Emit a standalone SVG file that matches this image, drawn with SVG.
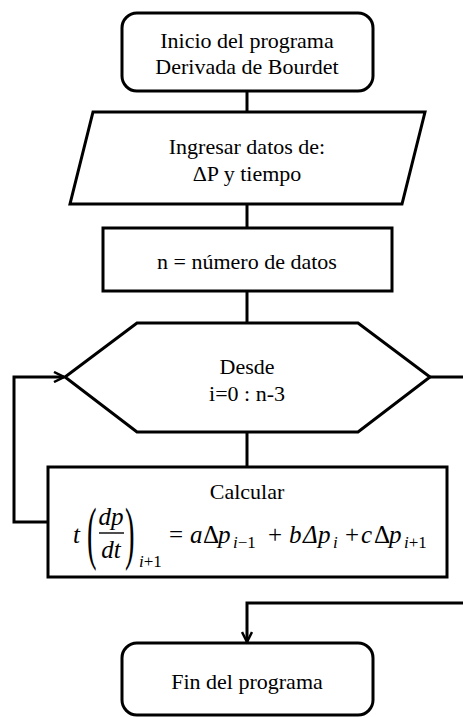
<svg xmlns="http://www.w3.org/2000/svg" width="463" height="717" viewBox="0 0 463 717">
<style>
.s{fill:#fff;stroke:#000;stroke-width:3;stroke-linejoin:miter}
.t{font-size:22px;fill:#000;text-anchor:middle}
.m{font-style:italic;font-size:25px;fill:#000}
.u{font-size:25px;fill:#000}
.bi{font-size:17px;font-style:italic;fill:#000}
.c{fill:none;stroke:#000;stroke-width:3}
</style>
<defs>
<marker id="arr" viewBox="0 0 12 12" refX="11" refY="6" markerWidth="12" markerHeight="12" markerUnits="userSpaceOnUse" orient="auto">
<path d="M1,1 L11,6 L1,11" fill="none" stroke="#000" stroke-width="2.5"/>
</marker>
</defs>
<rect width="463" height="717" fill="#fff"/>
<g id="connectors">
<line class="c" x1="247" y1="91" x2="247" y2="112"/>
<line class="c" x1="247" y1="204" x2="247" y2="228"/>
<line class="c" x1="247" y1="291" x2="247" y2="323"/>
<line class="c" x1="247" y1="432" x2="247" y2="467"/>
<line class="c" x1="430" y1="377" x2="463" y2="377"/>
<polyline class="c" points="48,522 14,522 14,377 64,377" marker-end="url(#arr)"/>
<polyline class="c" points="463,603 247,603 247,642" marker-end="url(#arr)"/>
</g>
<g id="inicio">
<rect class="s" x="122" y="13" width="251" height="78" rx="15"/>
<text class="t" font-family="Liberation Serif" x="247" y="48">Inicio del programa</text>
<text class="t" font-family="Liberation Serif" x="247" y="74">Derivada de Bourdet</text>
</g>
<g id="ingresar">
<polygon class="s" points="93,112 425,112 402,204 70,204"/>
<text class="t" font-family="Liberation Serif" x="247" y="154">Ingresar datos de:</text>
<text class="t" font-family="Liberation Serif" x="247" y="181">ΔP y tiempo</text>
</g>
<g id="n">
<rect class="s" x="103" y="228" width="289" height="63"/>
<text class="t" font-family="Liberation Serif" x="247" y="269">n = número de datos</text>
</g>
<g id="desde">
<polygon class="s" points="137,323 358,323 430,377 358,432 137,432 65,377"/>
<text class="t" font-family="Liberation Serif" x="247" y="374">Desde</text>
<text class="t" font-family="Liberation Serif" x="247" y="401">i=0 : n-3</text>
</g>
<g id="calcular">
<rect class="s" x="48" y="467" width="399" height="110"/>
<text class="t" font-family="Liberation Serif" x="247" y="499">Calcular</text>
<text class="m" font-family="Liberation Serif" x="73" y="543">t</text>
<text class="u" font-family="Liberation Serif" style="font-size:44px" transform="translate(87 556) scale(0.65 1.6)">(</text>
<text class="m" font-family="Liberation Serif" x="111" y="525" text-anchor="middle">dp</text>
<line x1="99" y1="533" x2="124" y2="533" stroke="#000" stroke-width="1.4"/>
<text class="m" font-family="Liberation Serif" x="111" y="558" text-anchor="middle">dt</text>
<text class="u" font-family="Liberation Serif" style="font-size:44px" transform="translate(125 556) scale(0.65 1.6)">)</text>
<text class="bi" font-family="Liberation Serif" x="139" y="567">i<tspan font-style="normal">+1</tspan></text>
<text class="u" font-family="Liberation Serif" x="169" y="543">=</text>
<text class="m" font-family="Liberation Serif" x="190" y="543">a</text>
<text class="u" font-family="Liberation Serif" x="203" y="543">Δ</text>
<text class="m" font-family="Liberation Serif" x="218" y="543">p</text>
<text class="bi" font-family="Liberation Serif" x="233" y="548">i<tspan font-style="normal">−1</tspan></text>
<text class="u" font-family="Liberation Serif" x="268" y="543">+</text>
<text class="m" font-family="Liberation Serif" x="289" y="543">b</text>
<text class="m" font-family="Liberation Serif" x="303" y="543">Δ</text>
<text class="m" font-family="Liberation Serif" x="318" y="543">p</text>
<text class="bi" font-family="Liberation Serif" x="333" y="548">i</text>
<text class="u" font-family="Liberation Serif" x="345" y="543">+</text>
<text class="m" font-family="Liberation Serif" x="361" y="543">c</text>
<text class="u" font-family="Liberation Serif" x="374" y="543">Δ</text>
<text class="m" font-family="Liberation Serif" x="389" y="543">p</text>
<text class="bi" font-family="Liberation Serif" x="404" y="548">i<tspan font-style="normal">+1</tspan></text>
</g>
<g id="fin">
<rect class="s" x="122" y="643" width="251" height="72" rx="15"/>
<text class="t" font-family="Liberation Serif" x="247" y="689">Fin del programa</text>
</g>
</svg>
